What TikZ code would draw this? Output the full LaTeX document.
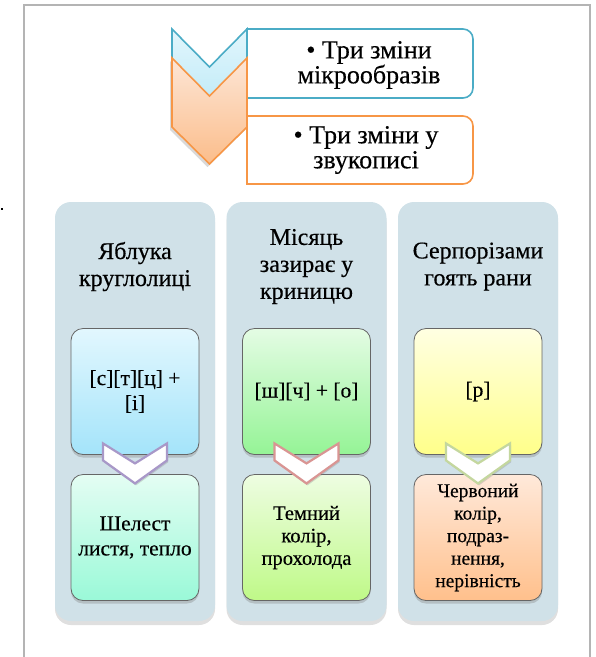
\documentclass[tikz,border=0pt]{standalone}
\usepackage{fontspec}
\setmainfont[FakeBold=0.4,AutoFakeBold=0.4]{Liberation Serif}
\usetikzlibrary{positioning,shadows}

\definecolor{framegray}{HTML}{B4B4B4}
\definecolor{colfill}{HTML}{D0E1E8}
\definecolor{blueline}{HTML}{4BACC6}
\definecolor{bluetop}{HTML}{E2F6FC}
\definecolor{bluebot}{HTML}{B2E6F6}
\definecolor{orangeline}{HTML}{F79646}
\definecolor{orangetop}{HTML}{FDE6D6}
\definecolor{orangebot}{HTML}{FBBD8B}
\definecolor{cyantop}{HTML}{E2F7FE}
\definecolor{cyanbot}{HTML}{A4E4FA}
\definecolor{minttop}{HTML}{E4FDF3}
\definecolor{mintbot}{HTML}{9AF9D8}
\definecolor{greentop}{HTML}{E4FCE4}
\definecolor{greenbot}{HTML}{95F496}
\definecolor{limetop}{HTML}{EEFDE2}
\definecolor{limebot}{HTML}{BFF988}
\definecolor{yellowtop}{HTML}{FFFFE2}
\definecolor{yellowbot}{HTML}{FFFF8A}
\definecolor{peachtop}{HTML}{FFE9DA}
\definecolor{peachbot}{HTML}{FFC08C}
\definecolor{chevlilac}{HTML}{A898C8}
\definecolor{chevrose}{HTML}{D99593}
\definecolor{chevolive}{HTML}{C4D79E}

\tikzset{
	colbox/.style={fill=colfill, rounded corners=16pt, minimum width=160pt, minimum height=419pt,
		drop shadow={shadow xshift=0pt, shadow yshift=-4pt, opacity=0.25}},
	coltitle/.style={align=center, font=\rmfamily\fontsize{24}{27}\selectfont},
	itembox/.style={draw=black!60, line width=0.8pt, rounded corners=12pt, minimum width=128pt,
		minimum height=126pt, align=center, inner sep=2pt, font=\rmfamily\fontsize{21.5}{25}\selectfont,
		drop shadow={shadow xshift=0pt, shadow yshift=-3pt, opacity=0.35}},
	chev/.style={fill=white, line width=2.2pt, line join=miter,
		drop shadow={shadow xshift=1pt, shadow yshift=-2pt, opacity=0.3}},
	barline/.style={line width=1.6pt, line cap=rect},
	toptext/.style={align=center, font=\rmfamily\fontsize{26}{25}\selectfont}
}

\begin{document}
\begin{tikzpicture}[x=1pt, y=-1pt]
	\useasboundingbox (0,0) rectangle (596,657);
	\draw[framegray, line width=1.6pt] (24,657) -- (24,5) -- (590,5) -- (590,657);
	\fill (0.5,207.5) rectangle (3,210);
	
	% upper list
	\draw[barline, draw=blueline, rounded corners=10pt] (247,29) -| (473,98) -- (247,98);
	\draw[barline, draw=blueline] (247,29) -- (247,98);
	\draw[draw=blueline, line width=1.6pt, top color=bluetop, bottom color=bluebot]
		(172,29) -- (209.5,67) -- (247,29) -- (247,98) -- (209.5,135) -- (172,98) -- cycle;
	\node[toptext](M1) at (369,65){• Три зміни\\мікрообразів};
	
	\draw[barline, draw=orangeline, rounded corners=10pt] (247,116) -| (473,184) -- (247,184);
	\draw[barline, draw=orangeline] (247,116) -- (247,184);
	\draw[draw=orangeline, line width=1.6pt, top color=orangetop, bottom color=orangebot,
		drop shadow={shadow xshift=-2pt, shadow yshift=-3pt, opacity=0.3}]
		(172,58) -- (209.5,96) -- (247,58) -- (247,127) -- (209.5,164) -- (172,127) -- cycle;
	\node[toptext](M2) at (366,150){• Три зміни у\\звукописі};
	
	% columns
	\node[colbox](C1) at (135,411.5){};
	\node[colbox, right of=C1, node distance=171.5pt](C2){};
	\node[colbox, right of=C2, node distance=171.5pt](C3){};
	
	\node[coltitle, above of=C1, node distance=145pt](H1){Яблука\\круглолиці};
	\node[coltitle, above of=C2, node distance=145pt](H2){Місяць\\зазирає у\\криницю};
	\node[coltitle, above of=C3, node distance=145pt](H3){Серпорізами\\гоять рани};
	
	\node[itembox, top color=cyantop, bottom color=cyanbot, above of=C1, node distance=20pt](T1){[с][т][ц] +\\{[і]}};
	\node[itembox, top color=minttop, bottom color=mintbot, below of=T1, node distance=146pt](B1){Шелест\\листя, тепло};
	
	\node[itembox, top color=greentop, bottom color=greenbot, above of=C2, node distance=20pt](T2){[ш][ч] + [о]};
	\node[itembox, top color=limetop, bottom color=limebot, below of=T2, node distance=146pt,
		font=\rmfamily\fontsize{20.5}{22.5}\selectfont](B2){Темний\\колір,\\прохолода};
	
	\node[itembox, top color=yellowtop, bottom color=yellowbot, above of=C3, node distance=20pt](T3){[р]};
	\node[itembox, top color=peachtop, bottom color=peachbot, below of=T3, node distance=146pt,
		font=\rmfamily\fontsize{19.5}{22.5}\selectfont](B3){Червоний\\колір,\\подраз-\\нення,\\нерівність};
	
	% arrows between boxes
	\draw[chev, draw=chevlilac, shift={(T1.south)}] (-32,-11.5) -- (0,8.5) -- (32,-11.5) -- (32,5.5) -- (0,28.5) -- (-32,5.5) -- cycle;
	\draw[chev, draw=chevrose, shift={(T2.south)}] (-32,-11.5) -- (0,8.5) -- (32,-11.5) -- (32,5.5) -- (0,28.5) -- (-32,5.5) -- cycle;
	\draw[chev, draw=chevolive, shift={(T3.south)}] (-32,-11.5) -- (0,8.5) -- (32,-11.5) -- (32,5.5) -- (0,28.5) -- (-32,5.5) -- cycle;
	
\end{tikzpicture}
\end{document}
